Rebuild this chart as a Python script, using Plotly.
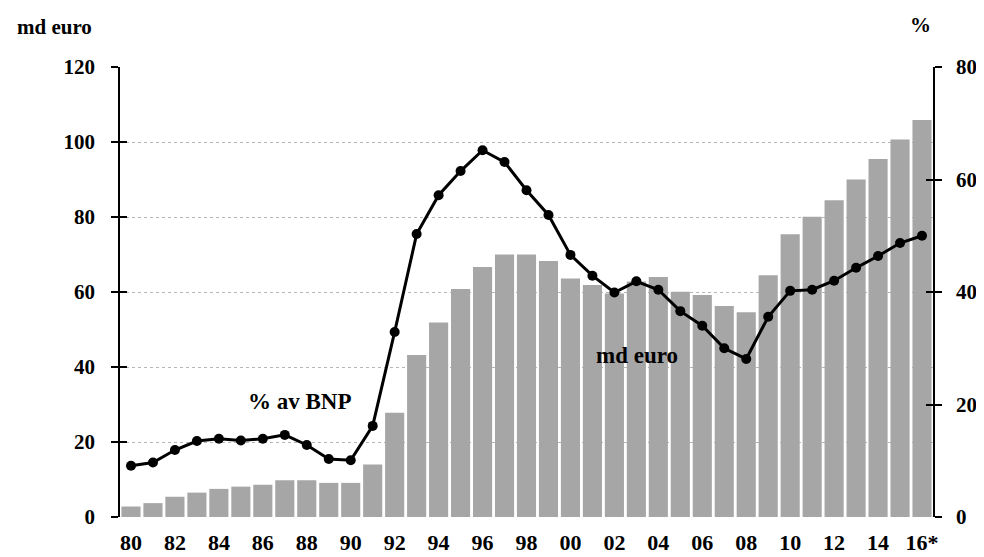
import plotly.graph_objects as go

years = [str(y)[-2:] for y in range(1980, 2017)]
tick_labels = ["80", "82", "84", "86", "88", "90", "92", "94", "96", "98",
               "00", "02", "04", "06", "08", "10", "12", "14", "16*"]
md_euro = [2.8, 3.7, 5.4, 6.5, 7.5, 8.1, 8.6, 9.8, 9.8, 9.1, 9.1, 14.0, 27.8,
           43.2, 51.9, 60.8, 66.7, 70.0, 70.0, 68.3, 63.6, 61.9, 59.6, 62.8,
           64.0, 60.1, 59.2, 56.3, 54.6, 64.5, 75.4, 80.1, 84.5, 90.0, 95.5,
           100.7, 105.9]
pct_bnp = [9.1, 9.7, 11.9, 13.5, 13.9, 13.6, 13.9, 14.6, 12.8, 10.3, 10.1,
           16.2, 32.9, 50.3, 57.2, 61.5, 65.2, 63.1, 58.1, 53.7, 46.6, 42.9,
           39.9, 41.9, 40.4, 36.6, 34.0, 30.0, 28.1, 35.6, 40.2, 40.4, 42.0,
           44.3, 46.4, 48.7, 50.0]

idx = list(range(len(years)))
font_family = "Liberation Serif, Times New Roman, serif"

fig = go.Figure()
fig.add_trace(go.Bar(
    x=idx, y=md_euro, marker=dict(color="#a6a6a6", line=dict(width=0)),
    name="md euro", yaxis="y"))
fig.add_trace(go.Scatter(
    x=idx, y=pct_bnp, mode="lines+markers", yaxis="y2",
    line=dict(color="black", width=3),
    marker=dict(color="black", size=10), name="% av BNP"))

tickfont = dict(family=font_family, size=21, color="black", weight="bold")
xtickfont = dict(family=font_family, size=22, color="black", weight="bold")

common_tick = dict(ticklen=7, tickcolor="black", tickwidth=1.5,
                   zeroline=False, showline=True, linecolor="black",
                   linewidth=1.5, automargin=False)

fig.update_layout(
    width=984, height=557,
    margin=dict(l=112, r=59, t=59, b=48),
    paper_bgcolor="white", plot_bgcolor="white",
    showlegend=False, bargap=0.13,
    font=dict(family=font_family, color="black"),
    xaxis=dict(
        range=[-0.5, len(years) - 0.5],
        tickvals=idx[::2], ticktext=tick_labels,
        tickfont=xtickfont, showgrid=False, showline=False,
        zeroline=False, ticks="", ticklabelstandoff=10, automargin=False),
    yaxis=dict(
        range=[0, 120], dtick=20, tickfont=tickfont,
        showgrid=True, gridcolor="#b5b5b5", griddash="dot", gridwidth=1,
        ticks="outside", ticklabelstandoff=12, **common_tick),
    yaxis2=dict(
        range=[0, 80], dtick=20, tickfont=tickfont, overlaying="y",
        side="right", showgrid=False, ticks="outside",
        ticklabelstandoff=10, **common_tick),
    yaxis3=dict(
        range=[0, 120], dtick=20, overlaying="y", side="left",
        showgrid=False, ticks="inside", showticklabels=False, **common_tick),
    yaxis4=dict(
        range=[0, 80], dtick=20, overlaying="y", side="right",
        showgrid=False, ticks="inside", showticklabels=False, **common_tick),
    annotations=[
        dict(text="<b>md euro</b>", xref="paper", yref="paper",
             x=-0.08, y=1.089, xanchor="center", yanchor="middle",
             showarrow=False, font=dict(family=font_family, size=21)),
        dict(text="<b>%</b>", xref="paper", yref="paper",
             x=0.985, y=1.093, xanchor="center", yanchor="middle",
             showarrow=False, font=dict(family=font_family, size=21)),
        dict(text="<b>% av BNP</b>", xref="x", yref="y",
             x=7.69, y=30.7, xanchor="center", yanchor="middle",
             showarrow=False, font=dict(family=font_family, size=23)),
        dict(text="<b>md euro</b>", xref="x", yref="y",
             x=23.03, y=43.2, xanchor="center", yanchor="middle",
             showarrow=False, font=dict(family=font_family, size=23)),
    ],
)
# invisible traces so the tick-only axes are drawn
fig.add_trace(go.Scatter(x=[None], y=[None], yaxis="y3", showlegend=False,
                         hoverinfo="skip"))
fig.add_trace(go.Scatter(x=[None], y=[None], yaxis="y4", showlegend=False,
                         hoverinfo="skip"))

fig.write_html("out.html")
